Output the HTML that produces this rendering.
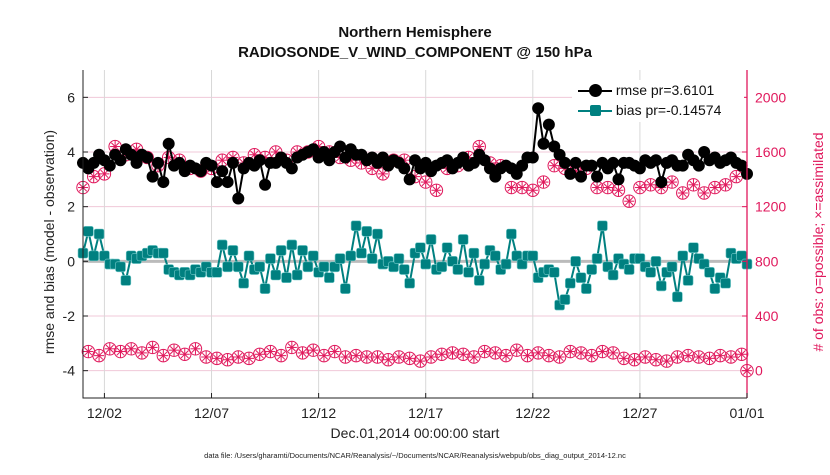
<!DOCTYPE html>
<html><head><meta charset="utf-8"><style>
body{margin:0;background:#fff;font-family:"Liberation Sans",sans-serif}
svg text{font-family:"Liberation Sans",sans-serif}
</style></head><body>
<svg id="c" width="830" height="470"></svg>
<script>
const dates=["12/02","12/07","12/12","12/17","12/22","12/27","01/01"];
const dateDays=[1,6,11,16,21,26,31];
const leftTicks=[-4,-2,0,2,4,6];
const rightTicks=[0,400,800,1200,1600,2000];
const rmse=[3.6,3.4,3.6,3.9, 3.7,3.5,3.9,3.7, 4.1,3.9,3.6,3.9, 3.8,3.1,3.6,2.9, 4.3,3.5,3.6,3.3, 3.5,3.4,3.3,3.6, 3.5,2.9,3.3,2.9, 3.6,2.3,3.4,3.6, 3.5,3.7,2.8,3.6, 3.6,3.8,3.6,3.4, 3.8,3.9,4.0,4.1, 3.8,4.0,3.7,4.0, 4.2,3.8,4.1,3.9, 3.9,3.7,3.8,3.6, 3.8,3.5,3.7,3.6, 3.4,3.0,3.7,3.4, 3.6,3.3,3.5,3.6, 3.7,3.4,3.6,3.8, 3.5,3.6,3.9,3.7, 3.4,3.1,3.4,3.5, 3.4,3.2,3.5,3.8, 3.8,5.6,4.3,5.0, 4.2,3.9,3.6,3.2, 3.6,3.1,3.5,3.5, 3.1,3.6,3.4,3.6, 3.0,3.6,3.6,3.5, 3.4,3.7,3.6,3.7, 2.9,3.6,3.7,3.5, 3.5,3.9,3.7,3.5, 4.0,3.7,3.8,3.6, 3.7,3.8,3.6,3.5, 3.2];
const bias=[0.3,1.1,0.2,1.0, 0.2,-0.1,-0.1,-0.2, -0.7,0.2,0.1,0.2, 0.3,0.4,0.3,0.3, -0.3,-0.4,-0.5,-0.4, -0.5,-0.3,-0.4,-0.2, -0.4,-0.4,0.6,-0.2, 0.4,-0.2,-0.8,0.2, -0.3,-0.2,-1.0,0.1, -0.5,0.4,-0.6,0.6, -0.5,0.4,-0.2,0.2, -0.4,-0.2,-0.6,-0.2, 0.1,-1.0,0.2,1.3, 0.3,1.1,0.1,1.0, -0.1,0.0,-0.2,0.1, -0.3,-0.8,0.3,0.5, -0.1,0.8,-0.3,-0.2, 0.5,0.0,-0.3,0.8, -0.4,0.3,-0.7,-0.1, 0.4,0.2,-0.3,-0.1, 1.0,0.2,-0.1,0.2, 0.2,-0.6,-0.4,-0.3, -0.4,-1.6,-1.4,-0.8, 0.0,-0.6,-1.0,-0.3, 0.1,1.3,-0.2,-0.5, 0.1,-0.1,-0.3,0.1, 0.1,-0.2,-0.4,0.0, -0.9,-0.4,-0.2,-1.3, 0.2,-0.7,0.5,0.1, -0.1,-0.4,-1.0,-0.6, -0.8,0.3,0.1,0.2, -0.1];
const obsHigh=[1340,1420,1440,1640,1580,1620,1560,1500,1560,1540,1480,1460,1480,1540,1560,1520,1580,1560,1600,1540,1600,1600,1640,1600,1560,1540,1520,1480,1440,1540,1540,1420,1380,1320,1480,1500,1560,1640,1520,1500,1340,1340,1320,1380,1500,1480,1460,1480,1340,1340,1320,1240,1340,1360,1340,1380,1300,1360,1300,1340,1360,1420,0];
const obsLow=[140,110,160,140,160,130,170,110,150,120,160,100,90,80,100,90,120,140,110,170,130,150,110,140,100,110,100,100,80,100,90,70,100,120,130,120,100,140,130,110,150,110,130,110,100,140,130,110,140,130,90,80,100,80,70,100,110,100,90,110,100,120];

const L=83,R=747,T=70,B=398;
const X=d=>L+(d/31)*(R-L);
const Y=v=>B-(v+5)/12*(B-T);
const YR=n=>Y(n/200-4);
const svg=document.getElementById('c');
const NS='http://www.w3.org/2000/svg';
function mk(t,a,p){const e=document.createElementNS(NS,t);for(const k in a)e.setAttribute(k,a[k]);(p||svg).appendChild(e);return e;}
leftTicks.forEach(v=>{const g=mk('line',{x1:L,x2:R,y1:Y(v),y2:Y(v),stroke:'#f0c8d8','stroke-width':1});

});
dateDays.forEach(d=>{const g=mk('line',{x1:X(d),x2:X(d),y1:T,y2:B,stroke:'#d8d8d8','stroke-width':1});

});
const z=mk('line',{x1:L,x2:R,y1:Y(0),y2:Y(0),stroke:'#bbb','stroke-width':3});


const obsPts=[];
obsHigh.forEach((n,i)=>obsPts.push([i*2*0.25,n]));
obsLow.forEach((n,i)=>obsPts.push([(i*2+1)*0.25,n]));
obsPts.forEach(([d,n])=>{
 const cx=X(d),cy=YR(n);
 const g=mk('g',{stroke:'#e0185c','stroke-width':1,fill:'none'});
 
 
 mk('circle',{cx:cx,cy:cy,r:6.2},g);
 mk('line',{x1:cx-5,x2:cx+5,y1:cy,y2:cy},g);
 mk('line',{x1:cx,x2:cx,y1:cy-6,y2:cy+6},g);
 mk('line',{x1:cx-3.8,x2:cx+3.8,y1:cy-3.8,y2:cy+3.8},g);
 mk('line',{x1:cx-3.8,x2:cx+3.8,y1:cy+3.8,y2:cy-3.8},g);
});
const bp=bias.map((v,i)=>X(i*0.25)+','+Y(v)).join(' ');
const bl=mk('polyline',{points:bp,fill:'none',stroke:'#008080','stroke-width':2});


bias.forEach((v,i)=>{const s=mk('rect',{x:X(i*0.25)-5,y:Y(v)-5,width:10,height:10,rx:2,fill:'#008080',stroke:'#7cc','stroke-width':0.6});

});
const rp=rmse.map((v,i)=>X(i*0.25)+','+Y(v)).join(' ');
const rl=mk('polyline',{points:rp,fill:'none',stroke:'#000','stroke-width':2});


rmse.forEach((v,i)=>{const c=mk('circle',{cx:X(i*0.25),cy:Y(v),r:6,fill:'#000'});

});
const ax=mk('path',{d:`M${L},${T}V${B}H${R}`,stroke:'#222','stroke-width':1,fill:'none'});


const ar=mk('line',{x1:R,x2:R,y1:T,y2:B,stroke:'#e0185c','stroke-width':1.3});


leftTicks.forEach(v=>{mk('line',{x1:L,x2:L+5,y1:Y(v),y2:Y(v),stroke:'#222'});
 const t=mk('text',{x:L-8,y:Y(v)+5,'text-anchor':'end','font-size':14,fill:'#222'});t.textContent=v;
 
 });
rightTicks.forEach(n=>{mk('line',{x1:R-5,x2:R,y1:YR(n),y2:YR(n),stroke:'#e0185c'});
 const t=mk('text',{x:R+8,y:YR(n)+5,'font-size':14,fill:'#e0185c'});t.textContent=n;
 
 });
dates.forEach((s,i)=>{mk('line',{x1:X(dateDays[i]),x2:X(dateDays[i]),y1:B,y2:B-5,stroke:'#222'});
 const t=mk('text',{x:X(dateDays[i]),y:B+20,'text-anchor':'middle','font-size':14,fill:'#222'});t.textContent=s;
 
 });
</script>
<div style="position:absolute;left:0;top:0;width:830px;height:470px;pointer-events:none">
<div style="position:absolute;left:83px;width:664px;top:23px;text-align:center;font-weight:bold;font-size:15px;line-height:20px;color:#111">Northern Hemisphere<br>RADIOSONDE_V_WIND_COMPONENT @ 150 hPa</div>
<div style="position:absolute;left:83px;width:664px;top:425px;text-align:center;font-size:14px;color:#222">Dec.01,2014 00:00:00 start</div>
<div style="position:absolute;left:0;width:830px;top:451px;text-align:center;font-size:7.5px;color:#222">data file: /Users/gharamti/Documents/NCAR/Reanalysis/~/Documents/NCAR/Reanalysis/webpub/obs_diag_output_2014-12.nc</div>
<div style="position:absolute;left:49px;top:234px;width:300px;margin-left:-150px;text-align:center;transform:rotate(-90deg);font-size:14px;color:#222;white-space:nowrap">rmse and bias (model - observation)</div>
<div style="position:absolute;left:818px;top:234px;width:320px;margin-left:-160px;text-align:center;transform:rotate(-90deg);font-size:14px;color:#e0185c;white-space:nowrap"># of obs: o=possible; ×=assimilated</div>
<div style="position:absolute;left:572px;top:80px;width:172px;height:42px;background:#fff;font-size:14px;color:#111">
 <div style="position:absolute;left:6px;top:2px;white-space:nowrap"><span style="display:inline-block;width:34px;height:2px;background:#000;vertical-align:middle;position:relative"><span style="position:absolute;left:11px;top:-6px;width:13px;height:13px;border-radius:50%;background:#000"></span></span> rmse pr=3.6101</div>
 <div style="position:absolute;left:6px;top:22px;white-space:nowrap"><span style="display:inline-block;width:34px;height:2px;background:#008080;vertical-align:middle;position:relative"><span style="position:absolute;left:12px;top:-5px;width:11px;height:11px;border-radius:2px;background:#008080"></span></span> bias pr=-0.14574</div>
</div>
</div>
</body></html>
